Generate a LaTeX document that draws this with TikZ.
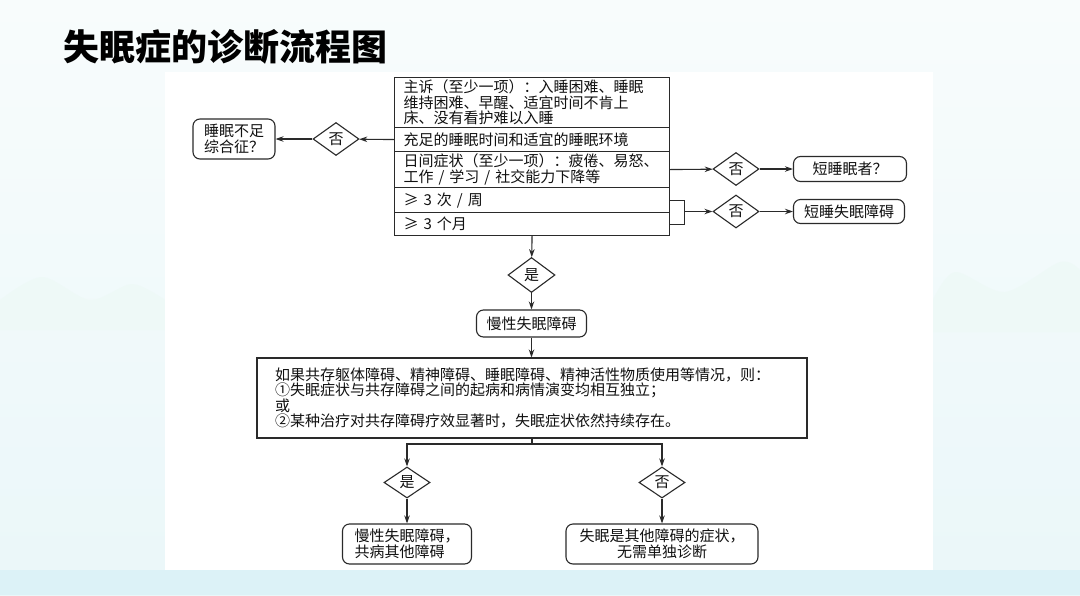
\documentclass[tikz,border=0pt]{standalone}
\usepackage{fontspec}
\setmainfont{Noto Sans CJK SC}
\usetikzlibrary{shapes.geometric,arrows.meta}
\definecolor{strich}{HTML}{2A2A2A}
\definecolor{schrift}{HTML}{111111}
\definecolor{bgtop}{HTML}{F8FCFC}
\definecolor{bgbot}{HTML}{EAF7F9}
\definecolor{band}{HTML}{DCF2F7}
\definecolor{berg}{HTML}{EEF9F7}

\begin{document}
\begin{tikzpicture}[x=1pt,y=-1pt,
    every node/.style={font=\fontsize{15}{15.5}\selectfont, text=schrift},
    rowbox/.style={draw=strich, line width=1.1pt, anchor=north west, text width=257pt, inner xsep=9pt, inner ysep=1pt, align=left},
    dia/.style={diamond, draw=strich, line width=1.1pt, inner sep=0pt, minimum width=46pt, minimum height=33pt},
    rbox/.style={draw=strich, line width=1.1pt, rounded corners=7pt, inner sep=2pt},
    arr/.style={draw=strich, line width=1.1pt, -{Stealth[length=8pt,width=5.5pt]}}]
    \useasboundingbox (0,0) rectangle (1080,595);
    % background
    \fill[top color=bgtop, bottom color=bgbot] (0,0) rectangle (1080,595);
    \fill[berg] plot[smooth] coordinates {(0,300) (42,277) (90,300) (132,284) (165,300)} -- (165,330) -- (0,330) -- cycle;
    \fill[berg] plot[smooth] coordinates {(933,300) (955,272) (1005,292) (1060,262) (1080,270)} -- (1080,332) -- (933,332) -- cycle;
    \fill[band] (0,570) rectangle (1080,595);
    \fill[white] (165,72) rectangle (933,570);
    \node[font=\bfseries\fontsize{36}{40}\selectfont, text=black, anchor=west, inner sep=0pt] (titel) at (63,47) {失眠症的诊断流程图};

    % criteria box
    \node[rowbox, minimum height=50] (r1) at (394,77) {主诉（至少一项）：入睡困难、睡眠\\维持困难、早醒、适宜时间不肯上\\床、没有看护难以入睡};
    \node[rowbox, minimum height=24] (r2) at (394,127) {充足的睡眠时间和适宜的睡眠环境};
    \node[rowbox, minimum height=36] (r3) at (394,151) {日间症状（至少一项）：疲倦、易怒、\\工作 / 学习 / 社交能力下降等};
    \node[rowbox, minimum height=25] (r4) at (394,187) {≥ 3 次 / 周};
    \node[rowbox, minimum height=23] (r5) at (394,212) {≥ 3 个月};

    \node[dia] (d1) at (336,139) {否};
    \node[rbox, minimum width=82, minimum height=40, align=left] (s1) at (234,139) {睡眠不足\\综合征？};
    \node[dia] (d2) at (736,169) {否};
    \node[rbox, minimum width=113, minimum height=25] (s2) at (850,169) {短睡眠者？};
    \node[dia] (d3) at (736,211.5) {否};
    \node[rbox, minimum width=111, minimum height=24] (s3) at (849,211.5) {短睡失眠障碍};

    \draw[arr] (r2.west) -- (d1);
    \draw[arr] (d1) -- (s1);
    \draw[arr] (r3.east) -- (d2);
    \draw[arr] (d2) -- (s2);
    \draw[strich, line width=1.1pt] (r4.east) -- ++(14,0) coordinate (k) |- (r5.east);
    \draw[arr] (k |- d3) -- (d3);
    \draw[arr] (d3) -- (s3);

    % chronic insomnia
    \node[dia, minimum width=47, minimum height=35] (dy) at (531.5,275) {是};
    \node[rbox, minimum width=110, minimum height=27] (m1) at (531.5,323.5) {慢性失眠障碍};
    \node[draw=strich, line width=1.1pt, text width=514pt, inner xsep=18pt, minimum height=80, align=left, font=\fontsize{15}{14.8}\selectfont] (bb) at (532,398) {如果共存躯体障碍、精神障碍、睡眠障碍、精神活性物质使用等情况，则：\\①失眠症状与共存障碍之间的起病和病情演变均相互独立；\\或\\②某种治疗对共存障碍疗效显著时，失眠症状依然持续存在。};
    \draw[arr] (r5.south) -- (dy);
    \draw[arr] (dy) -- (m1);
    \draw[arr] (m1) -- (m1 |- bb.north);

    % comorbidity
    \coordinate (j) at (532,444);
    \node[dia, minimum height=31] (da) at (407,482.5) {是};
    \node[dia, minimum height=31] (dn) at (662,482.5) {否};
    \node[rbox, minimum width=129, minimum height=40, align=left] (e1) at (407,544) {慢性失眠障碍，\\共病其他障碍};
    \node[rbox, minimum width=192, minimum height=40, align=center] (e2) at (662,544) {失眠是其他障碍的症状，\\无需单独诊断};
    \draw[strich, line width=1.1pt] (bb.south) -- (j);
    \draw[arr] (j) -| (da);
    \draw[arr] (j) -| (dn);
    \draw[arr] (da) -- (e1);
    \draw[arr] (dn) -- (e2);
\end{tikzpicture}
\end{document}
